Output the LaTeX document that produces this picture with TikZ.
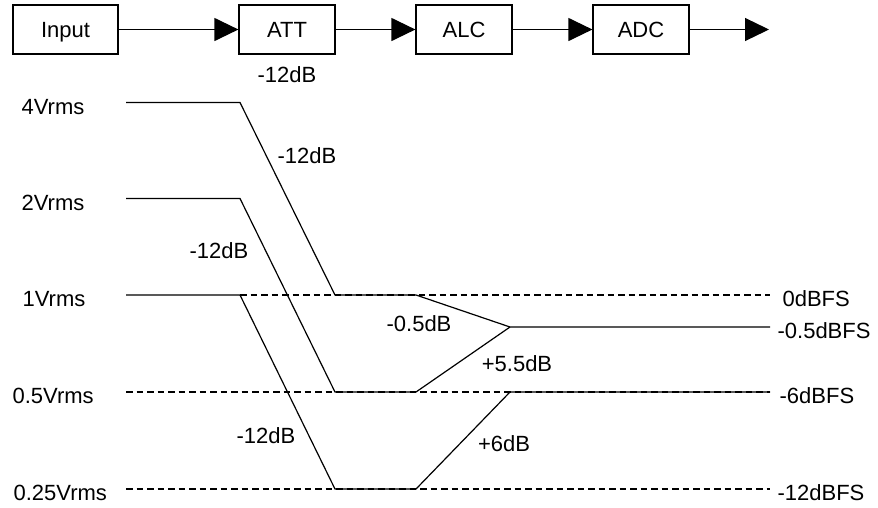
\documentclass[tikz,border=0pt]{standalone}
\usepackage{fontspec}
\setmainfont{Liberation Sans}
\usetikzlibrary{arrows.meta}
\begin{document}
\begin{tikzpicture}[x=1pt,y=-1pt, line width=1.2pt,
  txt/.style={inner sep=0pt, text height=16pt, text depth=0pt, font=\fontsize{22}{26}\selectfont},
  blk/.style={draw, txt, minimum width=96pt, minimum height=49pt},
  flow/.style={-{Triangle[length=24pt,width=23pt]}},
  guide/.style={dash pattern=on 6.5pt off 4pt}]
\useasboundingbox (0,0) rectangle (878,507);
% block chain
\node[blk, minimum width=105pt] (in) at (65.5,29.5) {Input};
\node[blk] (att) at (287,29.5) {ATT};
\node[blk] (alc) at (464,29.5) {ALC};
\node[blk] (adc) at (641,29.5) {ADC};
\coordinate (out) at (769,29.5);
\draw[flow] (in) -- (att);
\draw[flow] (att) -- (alc);
\draw[flow] (alc) -- (adc);
\draw[flow] (adc) -- (out);
\node[txt] (attg) at (287,74.5) {-12dB};
% coordinates
\coordinate (a0) at (126,102.5);
\coordinate (a1) at (240,102.5);
\coordinate (b0) at (126,198.5);
\coordinate (b1) at (240,198.5);
\coordinate (c0) at (126,295);
\coordinate (c1) at (240,295);
\coordinate (d0) at (126,392);
\coordinate (e0) at (126,489);
\coordinate (p0) at (335,295);
\coordinate (p1) at (416,295);
\coordinate (q0) at (335,392);
\coordinate (q1) at (416,392);
\coordinate (r0) at (335,489);
\coordinate (r1) at (416,489);
\coordinate (m) at (510,327);
\coordinate (n) at (510,392);
\coordinate (zc) at (770,295);
\coordinate (zm) at (770,327);
\coordinate (zd) at (770,392);
\coordinate (ze) at (770,489);
% dashed reference levels
\draw[guide] (c1) -- (zc);
\draw[guide] (d0) -- (zd);
\draw[guide] (e0) -- (ze);
% signal paths
\draw (a0) -- (a1) -- (p0) -- (p1) -- (m) -- (zm);
\draw (b0) -- (b1) -- (q0) -- (q1) -- (m);
\draw (c0) -- (c1) -- (r0) -- (r1) -- (n) -- (zd);
% level labels
\node[txt, anchor=west] (l4) at (21,106) {4Vrms};
\node[txt, anchor=west] (l2) at (21,202) {2Vrms};
\node[txt, anchor=west] (l1) at (22,298) {1Vrms};
\node[txt, anchor=west] (l05) at (12,395) {0.5Vrms};
\node[txt, anchor=west] (l025) at (13,492) {0.25Vrms};
\node[txt, anchor=west] (r0d) at (782,298) {0dBFS};
\node[txt, anchor=west] (r05d) at (777,330) {-0.5dBFS};
\node[txt, anchor=west] (r6d) at (779,395) {-6dBFS};
\node[txt, anchor=west] (r12d) at (777,492) {-12dBFS};
% gain labels
\node[txt] (g1) at (307,155) {-12dB};
\node[txt] (g2) at (219,250) {-12dB};
\node[txt] (g3) at (266,435) {-12dB};
\node[txt] (g4) at (419,323) {-0.5dB};
\node[txt] (g5) at (517,363) {+5.5dB};
\node[txt] (g6) at (504,443) {+6dB};
\end{tikzpicture}
\end{document}
